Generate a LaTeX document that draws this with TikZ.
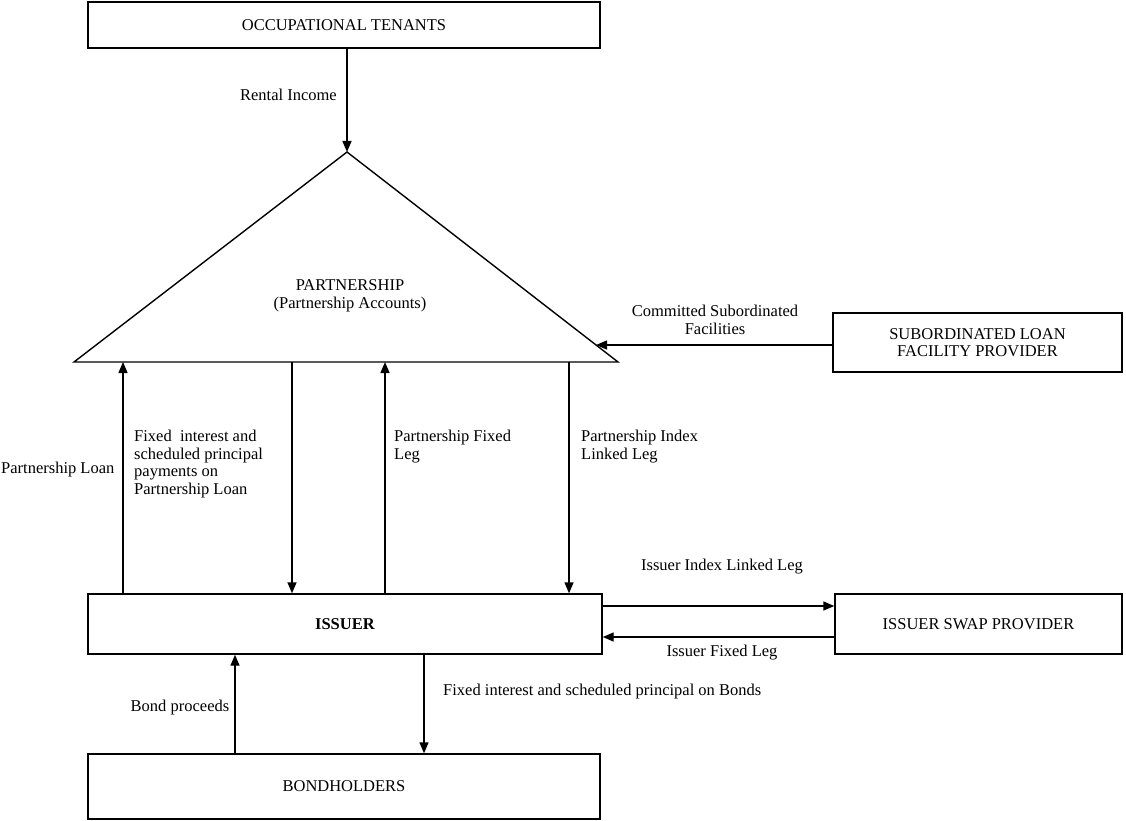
\documentclass[tikz,border=0pt]{standalone}
\usepackage{fontspec}
\setmainfont{Liberation Serif}
\usetikzlibrary{arrows.meta,calc}
\begin{document}
\begin{tikzpicture}[x=1pt,y=-1pt,
  font=\fontsize{16.5}{17.5}\selectfont,
  box/.style={draw,line width=1.4pt,inner sep=0pt,align=center},
  flow/.style={line width=1.4pt,-{Triangle[length=11pt,width=9pt]}},
  lbl/.style={inner sep=0pt,align=left}]
\useasboundingbox (0,0) rectangle (1126,821);
% boxes
\node[box,minimum width=512pt,minimum height=46pt] (occ) at (344,25) {OCCUPATIONAL TENANTS};
\node[box,minimum width=289pt,minimum height=59pt] (sub) at (977.5,342.5) {SUBORDINATED LOAN\\FACILITY PROVIDER};
\node[box,minimum width=514pt,minimum height=60pt] (iss) at (345,624) {\textbf{ISSUER}};
\node[box,minimum width=287pt,minimum height=60pt] (swap) at (978.5,624) {ISSUER SWAP PROVIDER};
\node[box,minimum width=512pt,minimum height=65pt] (bond) at (344,786.5) {BONDHOLDERS};
% triangle
\coordinate (apex) at (347,152);
\coordinate (tl) at (74,362);
\coordinate (tr) at (618,362);
\draw[line width=1.4pt,line join=miter] (apex) -- (tl) -- (tr) -- cycle;
\node[inner sep=0pt,align=center] (part) at (350,296) {PARTNERSHIP\\(Partnership Accounts)};
\coordinate (tre) at (596,345);
% connector anchors on the triangle base
\coordinate (b1) at (123,362);
\coordinate (b2) at (292,362);
\coordinate (b3) at (385,362);
\coordinate (b4) at (569,362);
% connectors
\draw[flow] (occ.south -| apex) -- (apex);
\draw[flow] (sub.west |- tre) -- (tre);
\draw[flow] (iss.north -| b1) -- (b1);
\draw[flow] (b2) -- (iss.north -| b2);
\draw[flow] (iss.north -| b3) -- (b3);
\draw[flow] (b4) -- (iss.north -| b4);
\coordinate (s1) at (0,606);
\coordinate (s2) at (0,637);
\draw[flow] (iss.east |- s1) -- (swap.west |- s1);
\draw[flow] (swap.west |- s2) -- (iss.east |- s2);
\coordinate (d1) at (235,0);
\coordinate (d2) at (424,0);
\draw[flow] (bond.north -| d1) -- (iss.south -| d1);
\draw[flow] (iss.south -| d2) -- (bond.north -| d2);
% labels
\node[lbl,anchor=east] (lrent) at (337,95) {Rental Income};
\node[lbl,align=center] (lcom) at (715,320) {Committed Subordinated\\Facilities};
\node[lbl,anchor=west] (lpl) at (1,470) {Partnership Loan};
\node[lbl,anchor=north west] (lfix) at (134,430) {Fixed\ \ interest and\\scheduled principal\\payments on\\Partnership Loan};
\node[lbl,anchor=north west] (lpf) at (394,430) {Partnership Fixed\\Leg};
\node[lbl,anchor=north west] (lpi) at (581,430) {Partnership Index\\Linked Leg};
\node[lbl] (lil) at (722,567) {Issuer Index Linked Leg};
\node[lbl] (lif) at (722,653) {Issuer Fixed Leg};
\node[lbl] (lbp) at (180,708) {Bond proceeds};
\node[lbl,anchor=west] (lfb) at (443,692) {Fixed interest and scheduled principal on Bonds};
\end{tikzpicture}
\end{document}
